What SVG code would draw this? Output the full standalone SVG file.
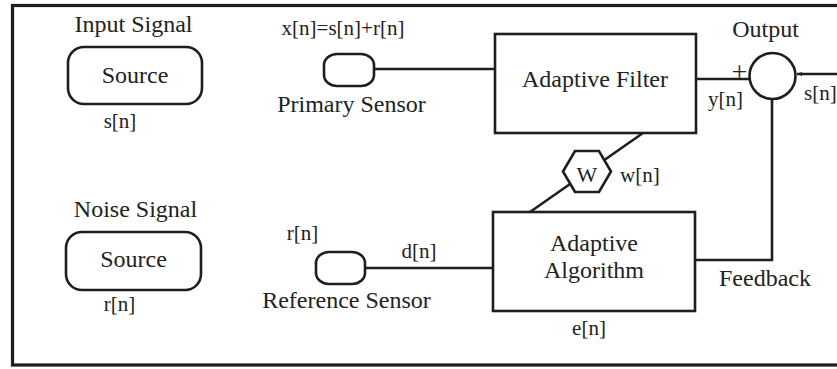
<svg xmlns="http://www.w3.org/2000/svg" width="837" height="369" viewBox="0 0 837 369">
<defs>
<style>
.ln{fill:none;stroke:#1e1e1e;stroke-width:2.6}
.bx{fill:#fff;stroke:#1e1e1e;stroke-width:2.6}
.t{font-family:'Liberation Serif','Tinos','Noto Serif','DejaVu Serif','Times New Roman',serif;fill:#222;text-anchor:middle}
.l{font-size:24px}
.s{font-size:21px}
</style>
<marker id="ah" markerWidth="6" markerHeight="6" refX="5" refY="3" orient="auto" markerUnits="userSpaceOnUse">
<path d="M0,1 L5,3 L0,5 Z" fill="#1e1e1e"/>
</marker>
</defs>
<rect x="0" y="0" width="837" height="369" fill="#fff"/>
<rect x="12.5" y="5.5" width="840" height="359.5" fill="none" stroke="#1e1e1e" stroke-width="3.2"/>

<g id="connectors">
<line class="ln" x1="374" y1="69" x2="495" y2="69"/>
<line class="ln" x1="696" y1="79" x2="750" y2="79"/>
<line class="ln" x1="840" y1="74" x2="797" y2="74" marker-end="url(#ah)"/>
<polyline class="ln" points="772,99 772,260 695,260"/>
<line class="ln" x1="643" y1="133" x2="530" y2="212"/>
<line class="ln" x1="365" y1="268" x2="493" y2="268"/>
</g>

<g id="input-signal">
<text class="t l" x="133.5" y="32">Input Signal</text>
<rect class="bx" x="68" y="47" width="134" height="57" rx="16"/>
<text class="t l" x="135" y="83">Source</text>
<text class="t s" x="120" y="128">s[n]</text>
</g>

<g id="noise-signal">
<text class="t l" x="135.5" y="217">Noise Signal</text>
<rect class="bx" x="66" y="232" width="135" height="58" rx="16"/>
<text class="t l" x="133.5" y="267">Source</text>
<text class="t s" x="119.5" y="311">r[n]</text>
</g>

<g id="primary-sensor">
<text class="t s" x="343" y="35">x[n]=s[n]+r[n]</text>
<rect class="bx" x="324" y="54" width="50" height="32" rx="13" ry="11"/>
<text class="t l" x="351.5" y="112">Primary Sensor</text>
</g>

<g id="reference-sensor">
<text class="t s" x="302.5" y="240">r[n]</text>
<rect class="bx" x="316" y="252" width="49" height="32" rx="13" ry="11"/>
<text class="t s" x="419" y="258">d[n]</text>
<text class="t l" x="346.5" y="308">Reference Sensor</text>
</g>

<g id="adaptive-filter">
<rect class="bx" x="495" y="34" width="201" height="99"/>
<text class="t l" x="595" y="87">Adaptive Filter</text>
</g>

<g id="summer">
<text class="t l" x="765.5" y="37">Output</text>
<circle class="bx" cx="772.5" cy="76" r="23"/>
<text class="t" x="739.5" y="81" font-size="28">+</text>
<text class="t s" x="725.5" y="106">y[n]</text>
<text class="t s" x="804" y="100" style="text-anchor:start">s[n]</text>
</g>

<g id="weights">
<polygon class="bx" points="563,171.5 575,151 599,151 611,171.5 599,192 575,192"/>
<text class="t" x="587" y="182" font-size="22">W</text>
<text class="t s" x="620" y="182" style="text-anchor:start">w[n]</text>
</g>

<g id="adaptive-algorithm">
<rect class="bx" x="493" y="212" width="202" height="99"/>
<text class="t l" x="594" y="251">Adaptive</text>
<text class="t l" x="594" y="278">Algorithm</text>
<text class="t s" x="589" y="335">e[n]</text>
</g>

<g id="feedback">
<text class="t l" x="765" y="286">Feedback</text>
</g>
</svg>
